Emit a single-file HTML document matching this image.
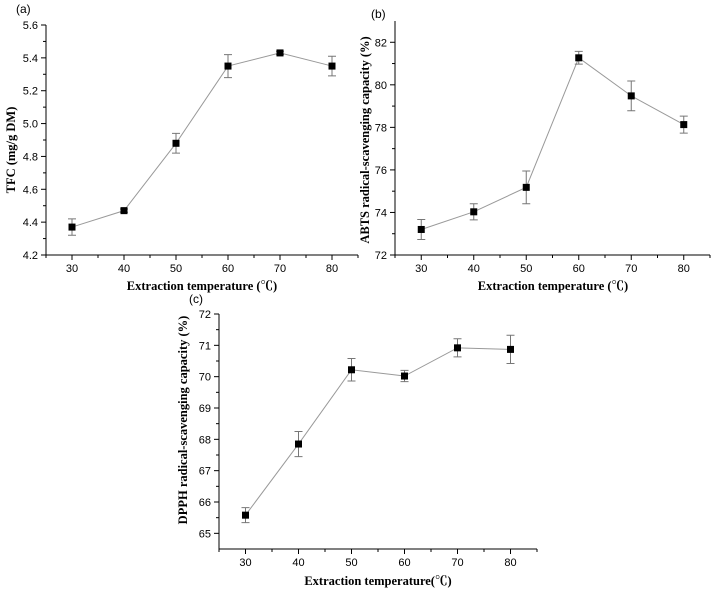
<!DOCTYPE html>
<html><head><meta charset="utf-8">
<style>
html,body{margin:0;padding:0;background:#fff;}
svg{display:block;}
text{font-family:"Liberation Sans",Arial,sans-serif;}
.ttl{font-family:"Liberation Serif","Noto Serif CJK SC",serif;font-weight:bold;font-size:12.5px;}
</style></head>
<body>
<svg id="fig" width="718" height="590" viewBox="0 0 718 590" xmlns="http://www.w3.org/2000/svg"></svg>
<script>
const categories = [30, 40, 50, 60, 70, 80];
const tfcValues = [4.37, 4.47, 4.88, 5.35, 5.43, 5.35];
const tfcErrors = [0.05, 0.01, 0.06, 0.07, 0.01, 0.06];
const tfcTicks = [4.2, 4.4, 4.6, 4.8, 5.0, 5.2, 5.4, 5.6];
const abtsValues = [73.2, 74.03, 75.18, 81.27, 79.48, 78.13];
const abtsErrors = [0.47, 0.38, 0.77, 0.3, 0.7, 0.4];
const abtsTicks = [72, 74, 76, 78, 80, 82];
const dpphValues = [65.58, 67.85, 70.22, 70.02, 70.92, 70.87];
const dpphErrors = [0.24, 0.4, 0.36, 0.18, 0.29, 0.45];
const dpphTicks = [65, 66, 67, 68, 69, 70, 71, 72];
const xTicks = [30, 40, 50, 60, 70, 80];

const NS = "http://www.w3.org/2000/svg";
const svg = document.getElementById('fig');
function mk(tag, attrs, parent, txt){
  const e = document.createElementNS(NS, tag);
  for (const k in attrs) e.setAttribute(k, attrs[k]);
  if (txt !== undefined) e.textContent = txt;
  parent.appendChild(e);
  return e;
}

function panel(o){
  const g = mk('g', {}, svg);
  
  
  const X = v => o.l + (v - o.xmin) / (o.xmax - o.xmin) * (o.r - o.l);
  const Y = v => o.b - (v - o.ymin) / (o.ymax - o.ymin) * (o.b - o.t);
  const ax = mk('path', {d:`M${o.l},${o.t}V${o.b}H${o.r}`, stroke:'#000', 'stroke-width':1, fill:'none'}, g);
  
  
  o.yTicks.forEach((v, i) => {
    const y = Y(v);
    mk('line', {x1:o.l-5, x2:o.l, y1:y, y2:y, stroke:'#000'}, g);
    if (i < o.yTicks.length - 1) {
      const ym = Y((v + o.yTicks[i+1]) / 2);
      mk('line', {x1:o.l-3, x2:o.l, y1:ym, y2:ym, stroke:'#000'}, g);
    }
    const t = mk('text', {x:o.l-8, y:y+4, 'text-anchor':'end', 'font-size':11}, g, o.yFmt(v));
    
    
  });
  for (let v = 25; v <= 85; v += 5) {
    const x = X(v);
    const major = v % 10 === 0;
    mk('line', {x1:x, x2:x, y1:o.b, y2:o.b + (major ? 5 : 3), stroke:'#000'}, g);
  }
  xTicks.forEach(v => {
    const t = mk('text', {x:X(v), y:o.b+17, 'text-anchor':'middle', 'font-size':11}, g, v);
    
    
  });
  const pts = categories.map((c, i) => `${X(c)},${Y(o.vals[i])}`).join(' ');
  const ln = mk('polyline', {points:pts, fill:'none', stroke:'#999', 'stroke-width':1}, g);
  
  
  categories.forEach((c, i) => {
    const x = X(c), y1 = Y(o.vals[i] + o.errs[i]), y2 = Y(o.vals[i] - o.errs[i]);
    const eb = mk('path', {d:`M${x},${y1}V${y2}M${x-4},${y1}H${x+4}M${x-4},${y2}H${x+4}`, stroke:'#777', 'stroke-width':1, fill:'none'}, g);
    
    
    const p = mk('rect', {x:x-3.5, y:Y(o.vals[i])-3.5, width:7, height:7, fill:'#000'}, g);
    
    
  });
  const xt = mk('text', {x:o.xtx, y:o.xty, 'text-anchor':'middle', class:'ttl'}, g, o.xTitle);
  
  
  const yt = mk('text', {x:0, y:0, 'text-anchor':'middle', class:'ttl', transform:`translate(${o.ytx},${o.yty}) rotate(-90)`}, g, o.yTitle);
  
  
  const lb = mk('text', {x:o.lbx, y:o.lby, 'font-size':12}, g, o.label);
  
  
}

panel({name:'panel-a-tfc', l:46, r:358, t:25, b:255, xmin:25, xmax:85, ymin:4.2, ymax:5.6,
  yTicks:tfcTicks, yFmt:v=>v.toFixed(1), vals:tfcValues, errs:tfcErrors,
  xTitle:'Extraction temperature (℃)', xtx:202, xty:290,
  yTitle:'TFC (mg/g DM)', ytx:15, yty:150, label:'(a)', lbx:16, lby:13});
panel({name:'panel-b-abts', l:395, r:710, t:21, b:255, xmin:25, xmax:85, ymin:72, ymax:83,
  yTicks:abtsTicks, yFmt:v=>String(v), vals:abtsValues, errs:abtsErrors,
  xTitle:'Extraction temperature (℃)', xtx:553, xty:290,
  yTitle:'ABTS radical-scavenging capacity (%)', ytx:369, yty:140, label:'(b)', lbx:371, lby:18});
panel({name:'panel-c-dpph', l:219, r:537, t:314, b:549, xmin:25, xmax:85, ymin:64.5, ymax:72,
  yTicks:dpphTicks, yFmt:v=>String(v), vals:dpphValues, errs:dpphErrors,
  xTitle:'Extraction temperature(℃)', xtx:378, xty:585,
  yTitle:'DPPH radical-scavenging capacity (%)', ytx:187, yty:420, label:'(c)', lbx:189, lby:303});
</script>
</body></html>
